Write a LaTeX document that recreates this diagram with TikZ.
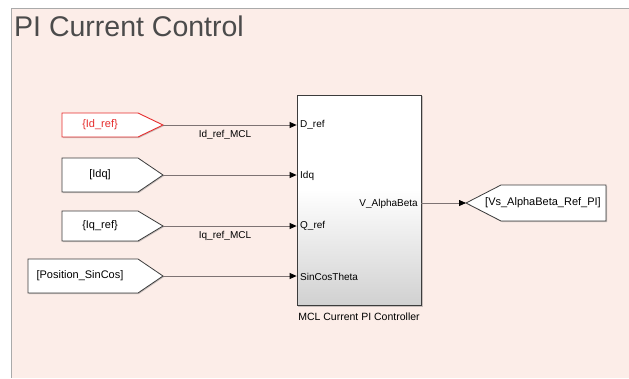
\documentclass[tikz,border=0pt]{standalone}
\usepackage{fontspec}
\setmainfont{Liberation Sans}
\usetikzlibrary{arrows.meta}
\definecolor{bgpink}{RGB}{252,237,232}
\definecolor{framegray}{RGB}{170,170,170}
\definecolor{wire}{RGB}{125,115,115}
\definecolor{titlegray}{RGB}{75,75,75}
\definecolor{blockedge}{RGB}{60,60,60}
\definecolor{redgoto}{RGB}{230,45,45}
\definecolor{shadowgray}{RGB}{200,190,187}
\tikzset{
  gotoshape/.style={draw=blockedge, fill=white, line width=0.8pt},
  shadowshape/.style={fill=shadowgray, draw=none},
  gototext/.style={font=\fontsize{11}{13}\selectfont, inner sep=0pt, text=black},
  smalltext/.style={font=\fontsize{10}{12}\selectfont, inner sep=0pt, text=black},
  sig/.style={draw=wire, line width=0.8pt, -{Triangle[black,length=7pt,width=6pt]}},
}
\begin{document}
\begin{tikzpicture}[x=1pt,y=-1pt]
\useasboundingbox (0,0) rectangle (629,378);
% background frame
\fill[white] (0,0) rectangle (629,378);
\fill[bgpink] (11,8) rectangle (629,378);
\draw[framegray, line width=1pt] (11,378) -- (11,8) -- (629,8);
% title
\node[anchor=base west, inner sep=0pt, text=titlegray, font=\fontsize{28.5}{32}\selectfont] (title) at (14,36) {PI Current Control};

% Goto/From shapes (shadows first)
\fill[shadowshape] (63,114) -- (139,114) -- (164,126) -- (139,138) -- (63,138) -- cycle;
\draw[draw=redgoto, fill=white, line width=0.9pt] (62,113) -- (138,113) -- (163,125) -- (138,137) -- (62,137) -- cycle;
\fill[shadowshape] (63,159) -- (139,159) -- (164,176) -- (139,193) -- (63,193) -- cycle;
\draw[gotoshape] (62,158) -- (138,158) -- (163,175) -- (138,192) -- (62,192) -- cycle;
\fill[shadowshape] (63,212) -- (139,212) -- (164,227) -- (139,242) -- (63,242) -- cycle;
\draw[gotoshape] (62,211) -- (138,211) -- (163,226) -- (138,241) -- (62,241) -- cycle;
\fill[shadowshape] (29,260) -- (139,260) -- (164,277) -- (139,294) -- (29,294) -- cycle;
\draw[gotoshape] (28,259) -- (138,259) -- (163,276) -- (138,293) -- (28,293) -- cycle;
\fill[shadowshape] (467,204) -- (502,186) -- (607,186) -- (607,222) -- (502,222) -- cycle;
\draw[gotoshape] (466,203) -- (501,185) -- (606,185) -- (606,221) -- (501,221) -- cycle;

\node[gototext, text=redgoto] (idref) at (100,125) {\{Id\_ref\}};
\node[gototext] (idq) at (100,175) {[Idq]};
\node[gototext] (iqref) at (100,226) {\{Iq\_ref\}};
\node[gototext] (pos) at (80,276) {[Position\_SinCos]};
\node[gototext] (vs) at (543,203) {[Vs\_AlphaBeta\_Ref\_PI]};

\coordinate (idrefout) at (163,125);
\coordinate (idqout) at (163,175);
\coordinate (iqrefout) at (163,226);
\coordinate (posout) at (163,276);
\coordinate (vsin) at (466,203);

% subsystem block
\fill[shadowshape] (298,96) rectangle (423,307);
\node[draw=blockedge, line width=0.8pt, minimum width=124pt, minimum height=210pt, inner sep=0pt] (mcl) at (359,200) {};
\fill[white] (297,95) rectangle (421,190);
\shade[top color=white, bottom color=black!18] (297,189) rectangle (421,305);
\draw[blockedge, line width=0.8pt] (297,95) rectangle (421,305);

\node[smalltext, anchor=west] (pd) at (300,125) {D\_ref};
\node[smalltext, anchor=west] (pi) at (300,176) {Idq};
\node[smalltext, anchor=west] (pq) at (300,226) {Q\_ref};
\node[smalltext, anchor=west] (ps) at (300,277) {SinCosTheta};
\node[smalltext, anchor=east] (pv) at (418,204) {V\_AlphaBeta};
\node[gototext, font=\fontsize{10.5}{12}\selectfont] (mcllabel) at (359,317) {MCL Current PI Controller};

% wires
\draw[sig] (idrefout) -- (mcl.west |- idrefout);
\draw[sig] (idqout) -- (mcl.west |- idqout);
\draw[sig] (iqrefout) -- (mcl.west |- iqrefout);
\draw[sig] (posout) -- (mcl.west |- posout);
\draw[sig] (mcl.east |- vsin) -- (vsin);

\node[smalltext] (l1) at (225,135) {Id\_ref\_MCL};
\node[smalltext] (l2) at (225,236) {Iq\_ref\_MCL};
\end{tikzpicture}
\end{document}
